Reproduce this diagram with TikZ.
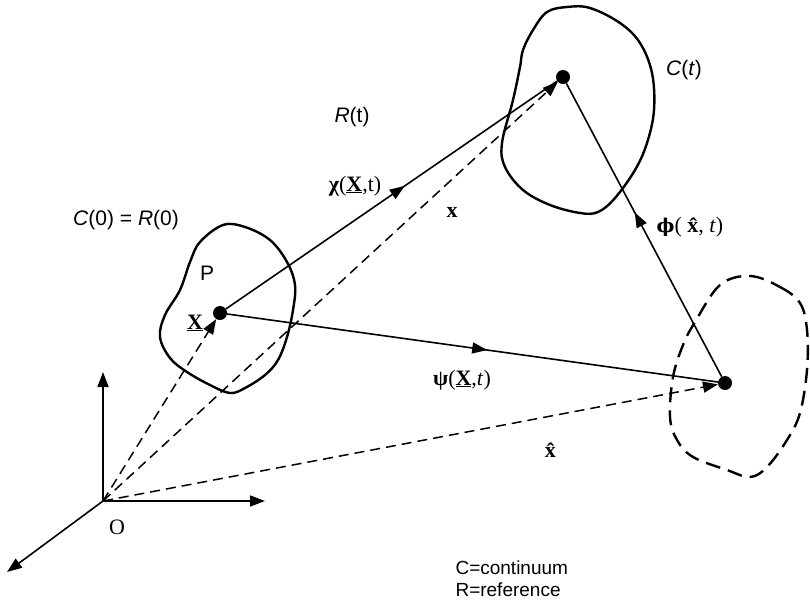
\documentclass[tikz,border=0pt]{standalone}
\usepackage{fontspec}
\setmainfont{Liberation Sans}
\newfontfamily\tnr{Liberation Serif}
\newfontfamily\dvs{DejaVu Serif}
\usetikzlibrary{arrows.meta,decorations.markings}
\tikzset{
  tip/.style={-{Triangle[length=15pt,width=11pt]}},
  midarrow/.style={postaction={decorate},decoration={markings,
     mark=at position #1 with {\arrow{Triangle[length=15pt,width=11pt]}}}},
  solidline/.style={line width=1.6pt},
  dashline/.style={line width=1.5pt,dash pattern=on 10pt off 6pt},
  blob/.style={line width=2.4pt},
  dblob/.style={line width=2.4pt,dash pattern=on 15pt off 8pt},
  dot/.style={circle,fill=black,inner sep=0pt,minimum size=14pt},
  sanslab/.style={font=\fontsize{21}{25}\selectfont},
  seriflab/.style={font=\fontsize{22}{26}\selectfont\tnr,inner sep=1pt},
}
\begin{document}
\begin{tikzpicture}[x=1pt,y=-1pt]
\useasboundingbox (0,0) rectangle (810,605);
% blobs
\draw[blob] plot[smooth cycle,tension=0.6] coordinates{
 (223,225) (245,227) (270,240) (287,262) (295,285) (293,310) (287,337) (278,360)
 (265,375) (245,388) (230,393) (210,385) (187,372) (170,358) (160,337) (165,315)
 (180,290) (190,262) (200,242)};
\draw[blob] plot[smooth cycle,tension=0.6] coordinates{
 (547,12) (567,7) (590,8) (620,23) (640,43) (652,73) (654,110) (647,143) (635,170)
 (615,198) (598,212) (580,213) (550,205) (523,190) (505,167) (502,143) (513,100)
 (520,67) (523,50) (533,30)};
\draw[dblob] plot[smooth cycle,tension=0.6] coordinates{
 (750,276) (780,287) (800,303) (807,330) (807,370) (800,413) (787,440) (767,467)
 (750,477) (727,470) (693,457) (677,440) (670,417) (673,377) (683,345) (695,322)
 (720,285)};
% origin and axes
\coordinate (O) at (103,501);
\coordinate (ax1) at (103,372);
\coordinate (ax2) at (265,501);
\coordinate (ax3) at (7,572);
\draw[solidline,tip] (O) -- (ax1);
\draw[solidline,tip] (O) -- (ax2);
\draw[solidline,tip] (O) -- (ax3);
% points
\node[dot] (X) at (220,313) {};
\node[dot] (x) at (563,77) {};
\node[dot] (xh) at (725,383) {};
% dashed position vectors
\draw[dashline,tip] (O) -- (X);
\draw[dashline,tip] (O) -- (x);
\draw[dashline,tip] (O) -- (xh);
% mappings
\draw[solidline,midarrow=0.54] (X) -- (x);
\draw[solidline,midarrow=0.53] (X) -- (xh);
\draw[solidline,midarrow=0.56] (xh) -- (x);
% labels
\node[sanslab] (lC0) at (126,220) {\textit{C}(0) = \textit{R}(0)};
\node[sanslab] (lP) at (207,273) {P};
\node[seriflab] (lX) at (195,323) {\textbf{\underline{X}}};
\node[sanslab] (lR) at (352,117) {\textit{R}(t)};
\node[seriflab] (lchi) at (355,186) {\textbf{χ}(\textbf{\underline{X}},t)};
\node[seriflab] (lx) at (452,212) {\textbf{x}};
\node[sanslab] (lCt) at (684,70) {\textit{C}(\textit{t})};
\node[seriflab] (lphi) at (690,227) {{\dvs\bfseries\fontsize{19}{22}\selectfont ϕ}( \textbf{\^{x}}, \textit{t})};
\node[seriflab] (lpsi) at (462,380) {\textbf{ψ}(\textbf{\underline{X}},\textit{t})};
\node[seriflab] (lxh) at (552,450) {\textbf{\^{x}}};
\node[seriflab] (lO) at (117,527) {O};
\node[font=\fontsize{19}{22}\selectfont,anchor=west] (l1) at (452,568) {C=continuum};
\node[font=\fontsize{19}{22}\selectfont,anchor=west] (l2) at (452,590) {R=reference};
\end{tikzpicture}
\end{document}
